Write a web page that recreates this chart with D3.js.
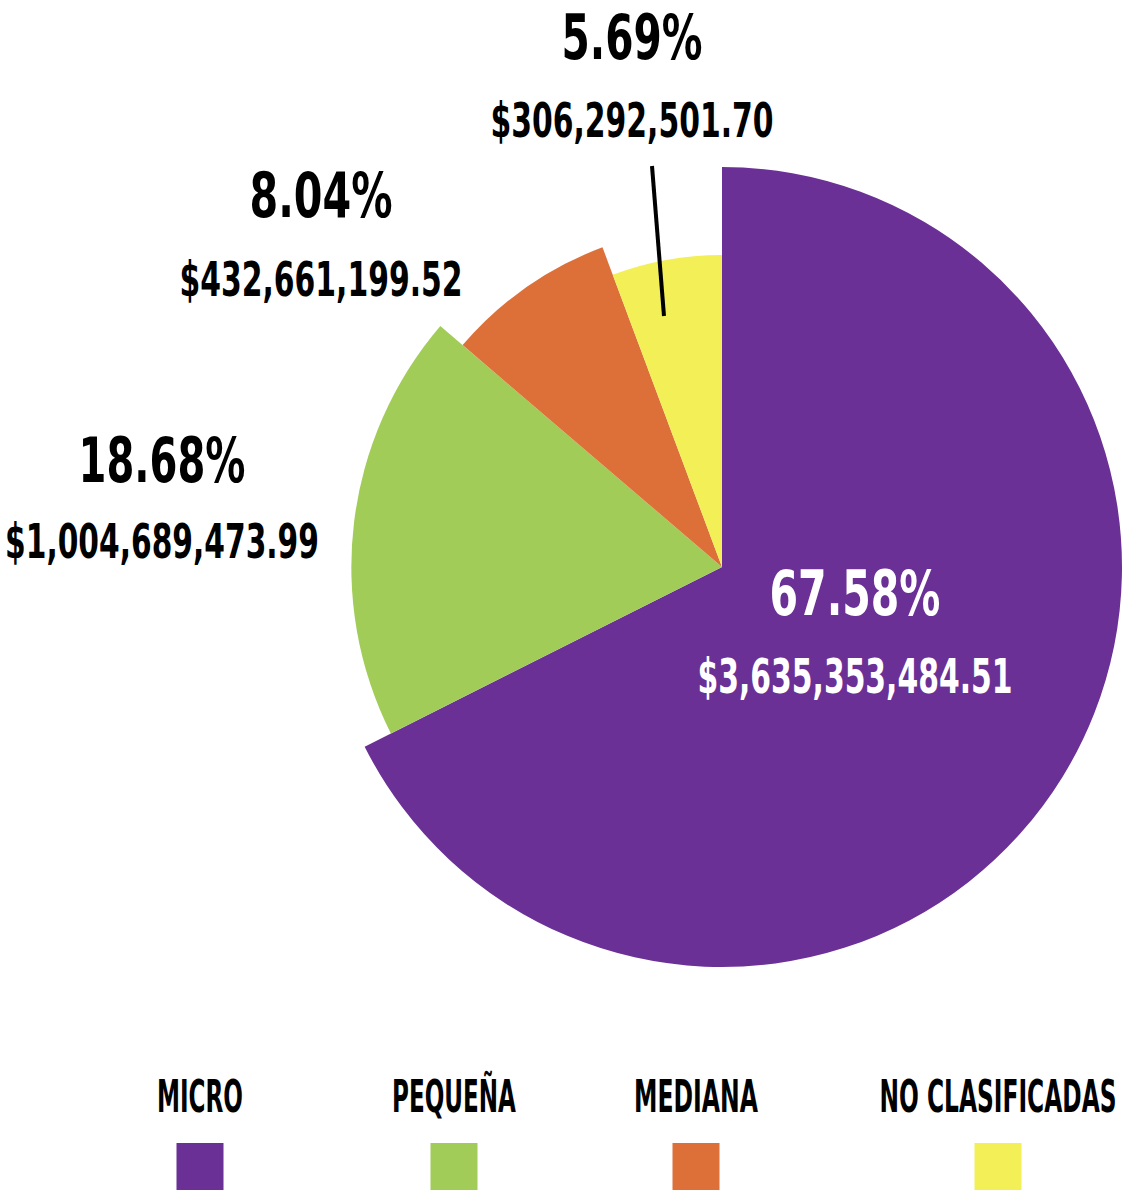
<!DOCTYPE html>
<html>
<head>
<meta charset="utf-8">
<script src="https://cdn.jsdelivr.net/npm/d3@7"></script>
<style>
  html, body { margin: 0; padding: 0; background: #fff; }
  text { font-family: "Liberation Sans Narrow", "DejaVu Sans Condensed", "DejaVu Sans", sans-serif; font-weight: bold; }
</style>
</head>
<body>
<div id="pie-chart"></div>
<script>
// data
const categories = ["MICRO", "PEQUEÑA", "MEDIANA", "NO CLASIFICADAS"];
const amounts = [3635353484.51, 1004689473.99, 432661199.52, 306292501.70];
const percents = [67.58, 18.68, 8.04, 5.69];
const colors = ["#6b3096", "#a2cc58", "#dd7039", "#f2ef57"];

var width = 1125, height = 1192;
var cx = 722, cy = 567;

var svg = d3.select("#pie-chart").append("svg")
    .attr("width", width)
    .attr("height", height);

var data = categories.map(function(c, i) {
  return {name: c, amount: amounts[i], pct: percents[i], color: colors[i]};
});

// each slice gets a smaller radius than the one before
var radius = d3.scaleLinear().domain([0, data.length - 1]).range([400, 312]);

var pie = d3.pie().sort(null).value(function(d) { return d.amount; });
var arcs = pie(data);

var g = svg.append("g").attr("transform", "translate(" + cx + "," + cy + ")");

g.selectAll("path").data(arcs).enter().append("path")
  .attr("d", function(d, i) { return d3.arc().innerRadius(0).outerRadius(radius(i))(d); })
  .attr("fill", function(d) { return d.data.color; });

// leader line for the small slice
g.append("line")
  .attr("x1", -70).attr("y1", -401)
  .attr("x2", -58).attr("y2", -251)
  .attr("stroke", "#000")
  .attr("stroke-width", 4);

var fmtAmount = d3.format("$,.2f");
var fmtPct = function(v) { return d3.format(".2f")(v) + "%"; };

// squeeze a text horizontally to a target width (the original font is a condensed one)
function squeeze(sel, x, y, w) {
  sel.each(function(d, i) {
    var node = this;
    var nat = node.getComputedTextLength();
    var sx = w(d, i) / nat;
    d3.select(node).attr("transform",
      "translate(" + x(d, i) + "," + y(d, i) + ") scale(" + sx + ",1)");
  });
}

// label layout: centre x, baselines, target widths
var labelPos = [
  {x: 855, yp: 615, ya: 693, wp: 171, wa: 315, fill: "#fff"},
  {x: 162, yp: 482, ya: 558, wp: 167, wa: 314, fill: "#000"},
  {x: 321, yp: 217, ya: 296, wp: 143, wa: 283, fill: "#000"},
  {x: 632, yp: 59,  ya: 137, wp: 141, wa: 283, fill: "#000"}
];

svg.selectAll(".pct").data(data).enter().append("text")
  .attr("class", "pct")
  .attr("text-anchor", "middle")
  .style("font-size", "62px")
  .attr("fill", function(d, i) { return labelPos[i].fill; })
  .text(function(d) { return fmtPct(d.pct); })
  .call(squeeze,
    function(d, i) { return labelPos[i].x; },
    function(d, i) { return labelPos[i].yp; },
    function(d, i) { return labelPos[i].wp; });

svg.selectAll(".amt").data(data).enter().append("text")
  .attr("class", "amt")
  .attr("text-anchor", "middle")
  .style("font-size", "48px")
  .attr("fill", function(d, i) { return labelPos[i].fill; })
  .text(function(d) { return fmtAmount(d.amount); })
  .call(squeeze,
    function(d, i) { return labelPos[i].x; },
    function(d, i) { return labelPos[i].ya; },
    function(d, i) { return labelPos[i].wa; });

// legend
var legendX = [200, 454, 696, 998];
var legendW = [86, 124, 124, 237];

svg.selectAll(".legend-label").data(data).enter().append("text")
  .attr("class", "legend-label")
  .attr("text-anchor", "middle")
  .style("font-size", "44px")
  .attr("fill", "#000")
  .text(function(d) { return d.name; })
  .call(squeeze,
    function(d, i) { return legendX[i]; },
    function() { return 1112; },
    function(d, i) { return legendW[i]; });

svg.selectAll(".legend-box").data(data).enter().append("rect")
  .attr("class", "legend-box")
  .attr("x", function(d, i) { return legendX[i] - 23.5; })
  .attr("y", 1143)
  .attr("width", 47)
  .attr("height", 47)
  .attr("fill", function(d) { return d.color; });
</script>
</body>
</html>
